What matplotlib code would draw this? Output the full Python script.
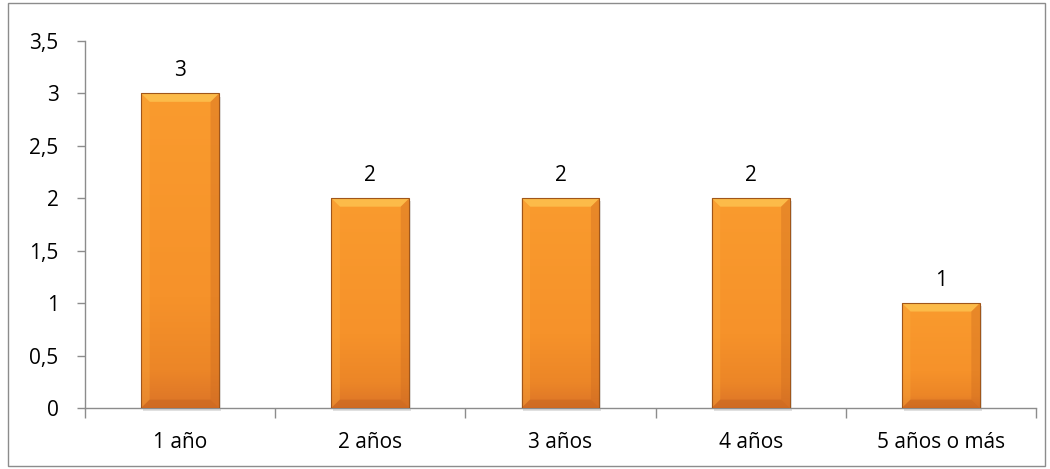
import numpy as np
import matplotlib.pyplot as plt
from matplotlib.colors import LinearSegmentedColormap
from matplotlib.patches import Rectangle, Polygon

# datos
categorias = ['1 año', '2 años', '3 años', '4 años', '5 años o más']
valores = [3, 2, 2, 2, 1]
yticks = [0, 0.5, 1, 1.5, 2, 2.5, 3, 3.5]
ytick_labels = ['0', '0,5', '1', '1,5', '2', '2,5', '3', '3,5']

plt.rcParams['font.family'] = ['Open Sans', 'DejaVu Sans']

fig = plt.figure(figsize=(10.5, 4.69), dpi=100)
ax = fig.add_axes([85 / 1050, 61 / 469, 951 / 1050, 367 / 469])

# borde exterior
fig.patches.append(Rectangle((8 / 1050, 3 / 469), 1037 / 1050, 463 / 469,
                             transform=fig.transFigure, fill=False,
                             edgecolor='#8c8c8c', linewidth=1.0))

cmap = LinearSegmentedColormap.from_list(
    'naranja', [(0, '#dc7427'), (0.12, '#ec8627'), (0.35, '#f6922a'), (1, '#fa9b2e')])
ancho = 0.41
x = np.arange(len(categorias))
barras = ax.bar(x, valores, width=ancho, color='#f7941d', edgecolor='none', zorder=2)

# tamaño del bisel en unidades de datos
bx, by = 0.045, 0.08
grad = np.linspace(0, 1, 256).reshape(-1, 1)
for b in barras:
    x0, y0 = b.get_x(), b.get_y()
    w, h = b.get_width(), b.get_height()
    # sombra
    ax.add_patch(Rectangle((x0 + 0.01, y0 - 0.03), w, h, facecolor='#000000',
                           alpha=0.12, edgecolor='none', zorder=1, clip_on=False))
    im = ax.imshow(grad, cmap=cmap, origin='lower', aspect='auto',
                   extent=[x0, x0 + w, y0, y0 + h], zorder=3)
    im.set_clip_path(b)
    x1, y1 = x0 + w, y0 + h
    # bisel: arriba, izquierda, derecha, abajo
    ax.add_patch(Polygon([(x0, y1), (x1, y1), (x1 - bx, y1 - by), (x0 + bx, y1 - by)],
                         facecolor='#fdc14f', edgecolor='none', alpha=0.85, zorder=4))
    ax.add_patch(Polygon([(x0, y0), (x0, y1), (x0 + bx, y1 - by), (x0 + bx, y0 + by)],
                         facecolor='#fbab3c', edgecolor='none', alpha=0.35, zorder=4))
    ax.add_patch(Polygon([(x1, y0), (x1, y1), (x1 - bx, y1 - by), (x1 - bx, y0 + by)],
                         facecolor='#c9681f', edgecolor='none', alpha=0.35, zorder=4))
    ax.add_patch(Polygon([(x0, y0), (x1, y0), (x1 - bx, y0 + by), (x0 + bx, y0 + by)],
                         facecolor='#c2621c', edgecolor='none', alpha=0.45, zorder=4))
    ax.add_patch(Rectangle((x0, y0), w, h, fill=False, edgecolor='#a0561a',
                           linewidth=0.8, zorder=5))
    ax.text(x0 + w / 2, y1 + 0.12, str(int(h)), ha='center', va='bottom',
            fontsize=15, color='black')

ax.set_xlim(-0.5, len(categorias) - 0.5)
ax.set_ylim(0, 3.5)
ax.set_yticks(yticks)
ax.set_yticklabels(ytick_labels)
ax.set_xticks(x)
ax.set_xticklabels(categorias)
ax.set_xticks(np.arange(-0.5, len(categorias)), minor=True)
ax.tick_params(axis='x', which='major', length=0, pad=17, labelsize=15)
ax.tick_params(axis='x', which='minor', length=7, color='#8c8c8c', width=1)
ax.tick_params(axis='y', length=6, color='#8c8c8c', width=1, labelsize=15, pad=13)

for s in ['top', 'right']:
    ax.spines[s].set_visible(False)
for s in ['left', 'bottom']:
    ax.spines[s].set_color('#8c8c8c')
    ax.spines[s].set_linewidth(1)

fig.savefig('out.png', dpi=100)
